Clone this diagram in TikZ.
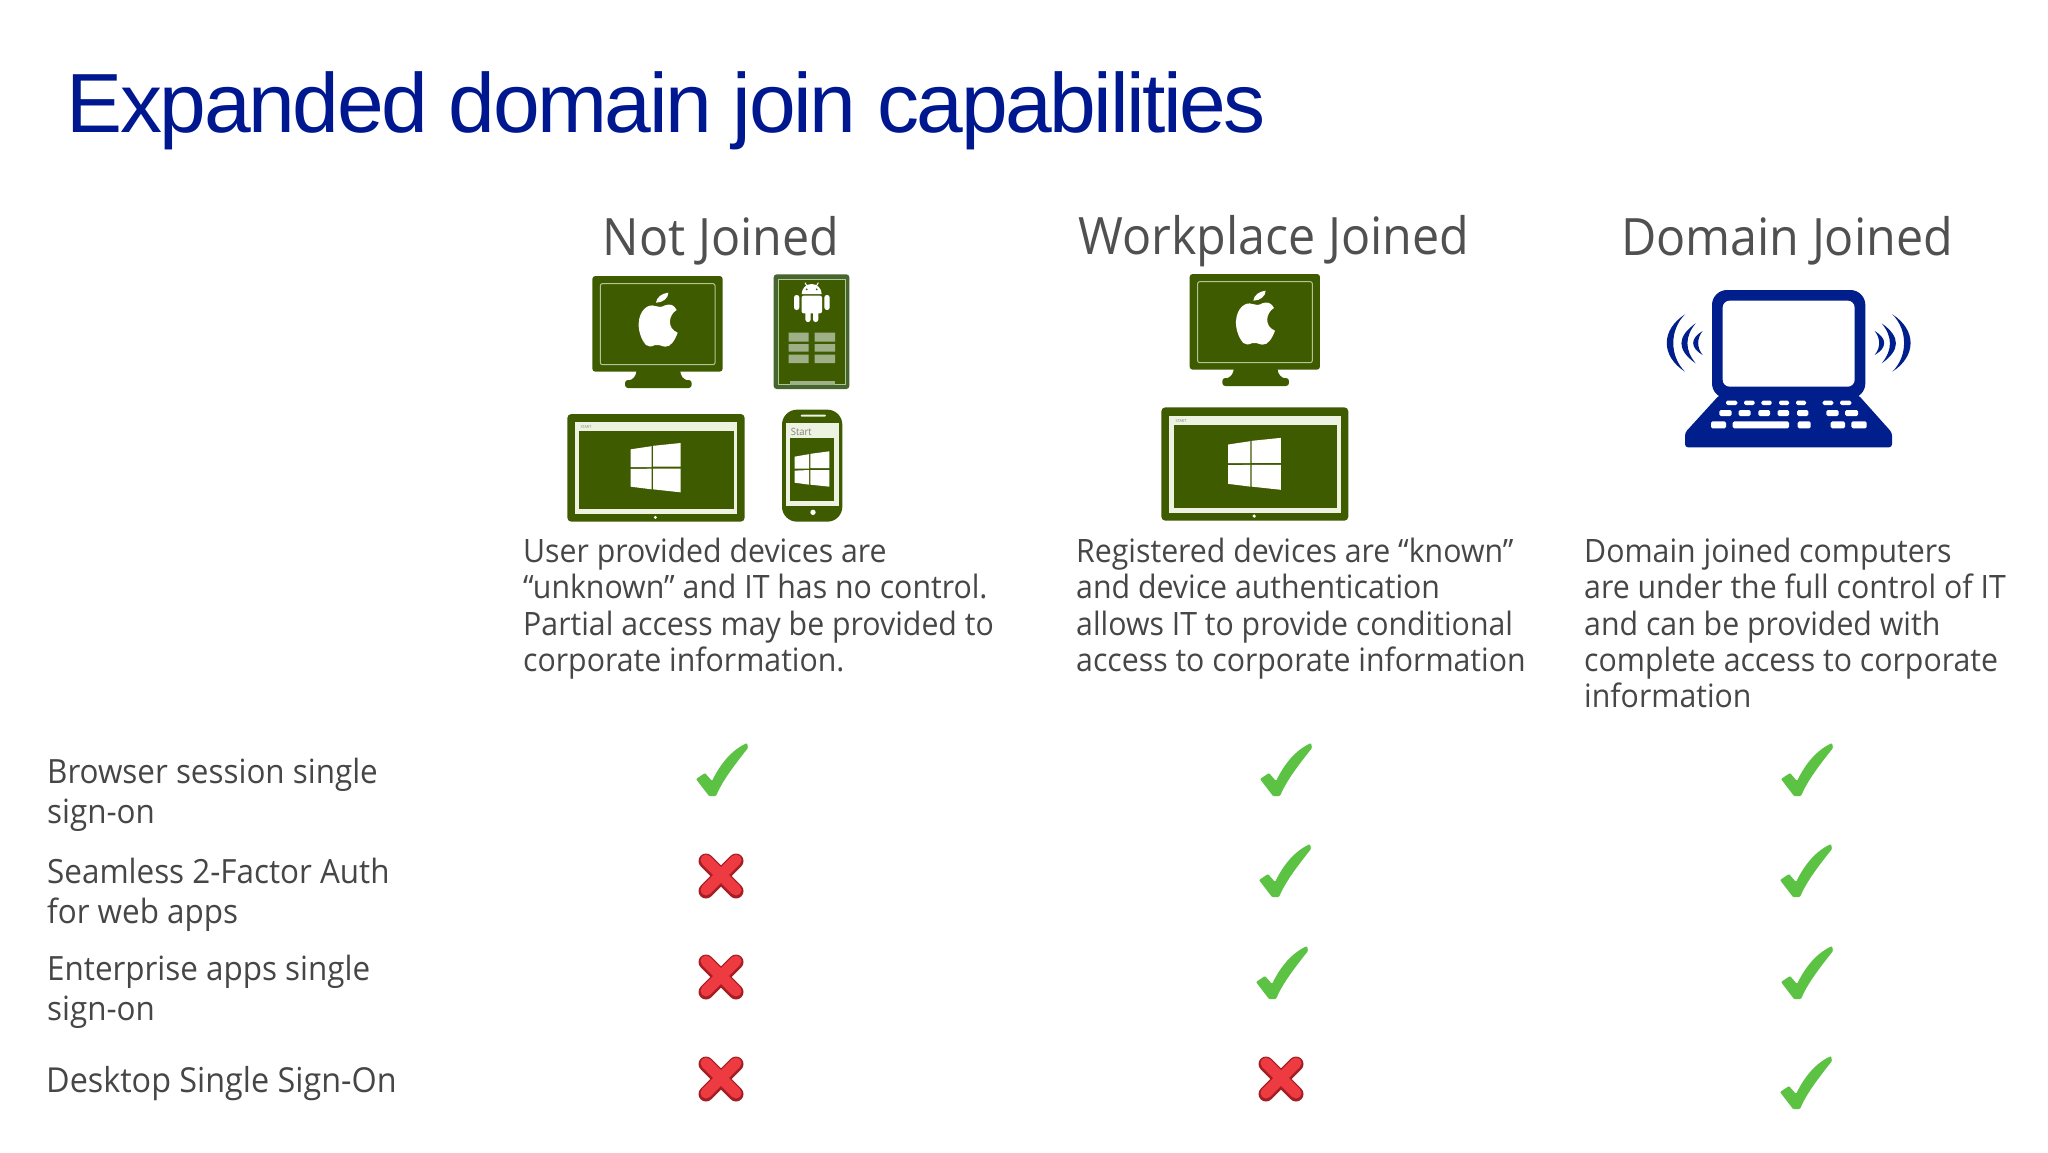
\documentclass[tikz,border=0pt]{standalone}
\usepackage{fontspec}
\setmainfont[FakeStretch=0.94]{Open Sans}
\newfontfamily\titlefont[LetterSpace=-2.9]{Liberation Sans}
\definecolor{titleblue}{HTML}{00188F}
\definecolor{headgray}{HTML}{505050}
\definecolor{bodygray}{HTML}{464646}
\definecolor{devgreen}{HTML}{3F5B00}
\definecolor{devedge}{HTML}{47652F}
\definecolor{devline}{HTML}{B4C49A}
\definecolor{devtile}{HTML}{9FB088}
\definecolor{devpale}{HTML}{EEF2E0}
\definecolor{lapblue}{HTML}{001E8C}
\definecolor{okgreen}{HTML}{5CC244}
\definecolor{nored}{HTML}{EE3B42}
\definecolor{noredd}{HTML}{A41E24}
\tikzset{
  titletext/.style={anchor=base west,inner sep=0pt,text=titleblue,font=\titlefont\fontsize{84}{90}\selectfont},
  headtext/.style={anchor=center,inner sep=0pt,text=headgray,font=\fontsize{51.5}{58}\selectfont},
  paratext/.style={anchor=north west,inner sep=0pt,align=left,text=bodygray,font=\fontsize{32.2}{36.2}\selectfont},
  rowtext/.style={anchor=north west,inner sep=0pt,align=left,text=bodygray,font=\fontsize{33.4}{40}\selectfont},
  rowwide/.style={rowtext,font=\fontsize{34.4}{40}\selectfont},
  zoomed/.style={x=0.33333pt,y=-0.33333pt},
  keyw/.style={fill=white,rounded corners=1.5pt},
}
\newcommand{\apple}{%
  \fill[white] (410,150) .. controls (385,165) and (380,205) .. (413,218)
    .. controls (405,240) and (392,262) .. (375,260)
    .. controls (362,258) and (355,252) .. (345,255)
    .. controls (335,260) and (325,262) .. (318,255)
    .. controls (300,235) and (295,205) .. (296,190)
    .. controls (298,150) and (325,130) .. (345,138)
    .. controls (355,142) and (365,142) .. (375,136)
    .. controls (390,130) and (403,135) .. (410,150) -- cycle;
  \fill[white] (348,128) .. controls (350,112) and (365,100) .. (385,98)
    .. controls (385,115) and (368,128) .. (348,128) -- cycle;}
\newcommand{\monitor}{%
  \fill[devgreen,rounded corners=3pt] (157,48) rectangle (548,335);
  \draw[devline,line width=1pt,rounded corners=2pt] (181,71) rectangle (525,314);
  \fill[devgreen] (290,330) -- (420,330) .. controls (422,350) and (430,358) .. (445,362) -- (265,362) .. controls (280,358) and (288,350) .. (290,330) -- cycle;
  \fill[devgreen,rounded corners=3pt] (255,360) rectangle (455,384);
  \apple}
\newcommand{\winpanes}[9]{%
  \pgfmathsetmacro{\ml}{(#4+#7)/2}\pgfmathsetmacro{\mr}{(#6+#9)/2}%
  \fill[white] (#1,#4) -- (#2-2,#5+0.5) -- (#2-2,\ml-3) -- (#1,\ml-3) -- cycle;
  \fill[white] (#2+2,#5-0.5) -- (#3,#6) -- (#3,\mr-3) -- (#2+2,\mr-3) -- cycle;
  \fill[white] (#1,\ml+3) -- (#2-2,\mr+3) -- (#2-2,#8) -- (#1,#7) -- cycle;
  \fill[white] (#2+2,\mr+3) -- (#3,\mr+3) -- (#3,#9) -- (#2+2,#8) -- cycle;}
\newcommand{\tabletdev}[1]{%
  \fill[devgreen,rounded corners=4pt] (82,462) rectangle (614,785);
  \fill[devpale] (105,487) rectangle (592,762);
  \fill[devgreen] (118,513) rectangle (581,748);
  \node[inner sep=0pt,text=gray,font=\fontsize{4}{4}\selectfont] (#1) at (138,500) {START};
  \fill[white] (346,772) circle (5);
  \winpanes{272}{337}{422}{568}{558}{549}{680}{688}{697}}
\newcommand{\okmark}[2]{%
  \fill[okgreen,rounded corners=1pt,shift={(#1pt,-#2pt)}] (-26pt,-9pt) -- (-17pt,-3pt)
    -- (-10pt,-11pt) .. controls (-4pt,1pt) and (6pt,18pt) .. (25pt,27pt) -- (26pt,22pt)
    .. controls (10pt,2pt) and (0pt,-12pt) .. (-6pt,-26pt) -- (-13pt,-26pt) -- cycle;}
\newcommand{\nomark}[2]{%
  \begin{scope}[shift={(#1pt,-#2pt)},line cap=round]
    \draw[noredd,line width=15pt] (-15pt,15pt) -- (15pt,-15pt) (-15pt,-15pt) -- (15pt,15pt);
    \draw[nored,line width=11pt] (-15pt,16pt) -- (15pt,-14pt) (-15pt,-14pt) -- (15pt,16pt);
  \end{scope}}
\begin{document}
\begin{tikzpicture}[x=1pt,y=-1pt]
\useasboundingbox (0,0) rectangle (2048,1152);
\fill[white] (0,0) rectangle (2048,1152);
\node[titletext] (title) at (66.5,132.7) {Expanded domain join capabilities};
\node[headtext] (h1) at (721,241) {Not Joined};
\node[headtext] (h2) at (1274,241) {Workplace Joined};
\node[headtext] (h3) at (1787,241) {Domain Joined};
% Not Joined devices
\begin{scope}[shift={(540pt,-260pt)},zoomed]
  \monitor
  \tabletdev{starttiny}
  % android tablet
  \fill[devedge,rounded corners=3pt] (701,43) rectangle (928,387);
  \fill[devgreen] (715,57) rectangle (915,374);
  \draw[devline,line width=0.8pt] (715,57) rectangle (915,374);
  \fill[white] (785,102) arc[start angle=180,end angle=360,radius=30] -- cycle;
  \draw[white,line width=1pt] (795,68) -- (802,80) (835,68) -- (828,80);
  \fill[devgreen] (800,88) circle (3) (830,88) circle (3);
  \fill[white,rounded corners=2pt] (785,107) rectangle (846,160);
  \fill[white,rounded corners=2.5pt] (796,150) rectangle (812,186) (819,150) rectangle (835,186);
  \fill[white,rounded corners=2.5pt] (762,105) rectangle (778,150) (853,105) rectangle (869,150);
  \fill[devtile] (746,218) rectangle (806,245) (824,218) rectangle (885,245)
    (746,252) rectangle (806,275) (824,252) rectangle (885,275)
    (746,284) rectangle (806,309) (824,284) rectangle (885,309);
  \fill[devtile] (750,363) rectangle (885,374);
  % phone
  \fill[devgreen,rounded corners=15pt] (726,449) rectangle (907,785);
  \fill[devpale] (737,490) rectangle (897,737);
  \fill[devgreen] (751,534) rectangle (883,724);
  \fill[devpale,rounded corners=1pt] (782,464) rectangle (858,470);
  \fill[white] (819,757) circle (8);
  \node[anchor=west,inner sep=0pt,text=gray,font=\fontsize{10}{10}\selectfont] (startphone) at (752,515) {Start};
  \winpanes{764}{809}{868}{590}{582}{574}{668}{674}{680}
\end{scope}
% Workplace Joined devices
\begin{scope}[shift={(1137.3pt,-258pt)},zoomed]
  \monitor
\end{scope}
\begin{scope}[shift={(1140pt,-260pt)},zoomed]
  \begin{scope}[shift={(64,442)},xscale=1.0545,yscale=1.0526,shift={(-82,-462)}]
    \tabletdev{starttinyb}
  \end{scope}
\end{scope}
% Laptop
\begin{scope}[shift={(1640pt,-270pt)},zoomed]
  \fill[lapblue,rounded corners=15pt] (216,60) rectangle (676,385);
  \fill[white,rounded corners=7pt] (248,92) rectangle (644,350);
  \fill[lapblue,rounded corners=3pt] (238,375) -- (655,375) -- (756,488) -- (756,532) -- (135,532) -- (135,488) -- cycle;
  \foreach \a/\b in {258/292,312/344,364/395,417/447,468/498,548/580,600/634} {\fill[keyw] (\a,392) rectangle (\b,405);}
  \foreach \a/\b in {238/275,296/332,355/390,413/447,471/505,559/596,615/654} {\fill[keyw] (\a,420) rectangle (\b,438);}
  \foreach \a/\b in {213/258,278/447,473/512,572/615,634/680} {\fill[keyw] (\a,454) rectangle (\b,475);}
  \foreach \m in {0,1}{
    \begin{scope}[xshift={\m*892*0.33333pt},xscale={1-2*\m}]
      \fill[lapblue] (135,133) .. controls (62,180) and (62,258) .. (135,305) .. controls (88,258) and (88,180) .. (135,133) -- cycle;
      \fill[lapblue] (167,160) .. controls (110,200) and (110,240) .. (167,280) .. controls (134,240) and (134,200) .. (167,160) -- cycle;
      \fill[lapblue] (188,183) .. controls (150,205) and (150,233) .. (188,255) .. controls (170,233) and (170,205) .. (188,183) -- cycle;
    \end{scope}}
\end{scope}
% Paragraphs
\node[paratext] (p1) at (523,538) {User provided devices are\\“unknown” and IT has no control.\\Partial access may be provided to\\corporate information.};
\node[paratext] (p2) at (1076,538) {Registered devices are “known”\\and device authentication\\allows IT to provide conditional\\access to corporate information};
\node[paratext] (p3) at (1584,538) {Domain joined computers\\are under the full control of IT\\and can be provided with\\complete access to corporate\\information};
% Rows
\node[rowtext] (r1) at (47,758) {Browser session single\\sign-on};
\node[rowtext] (r2) at (47,858) {Seamless 2-Factor Auth\\for web apps};
\node[rowtext] (r3) at (47,955) {Enterprise apps single\\sign-on};
\node[rowwide] (r4) at (46,1066) {Desktop Single Sign-On};
% Marks
\okmark{722}{770}\okmark{1286}{770}\okmark{1807}{770}
\nomark{721}{876}\okmark{1285}{871}\okmark{1806}{871}
\nomark{721}{977}\okmark{1282}{973}\okmark{1807}{973}
\nomark{721}{1079}\nomark{1281}{1079}\okmark{1806}{1083}
\end{tikzpicture}
\end{document}
